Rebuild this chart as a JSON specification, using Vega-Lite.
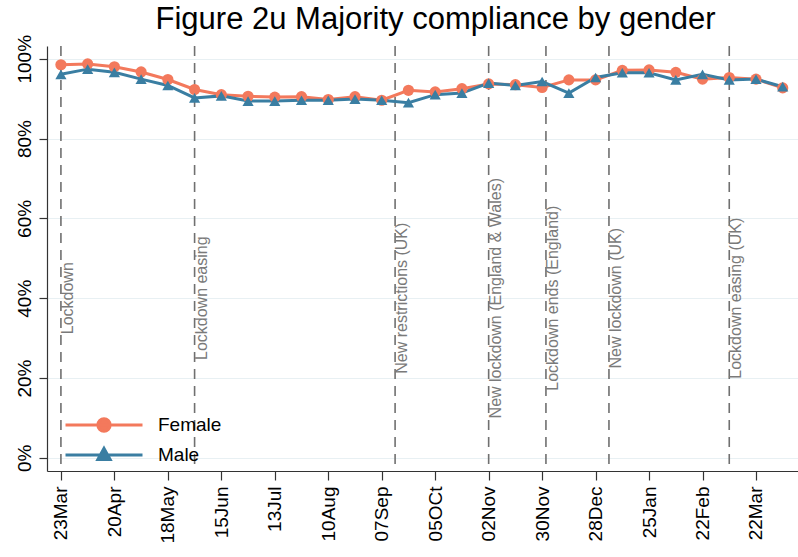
{
  "$schema": "https://vega.github.io/schema/vega-lite/v6.json",
  "width": 798,
  "height": 557,
  "autosize": {"type": "fit", "contains": "padding"},
  "padding": {"left": 14, "right": 0, "top": 8, "bottom": 13},
  "background": "white",
  "title": {
    "text": "Figure 2u Majority compliance by gender",
    "font": "Liberation Sans",
    "fontSize": 31,
    "fontWeight": "normal",
    "color": "#000000",
    "anchor": "middle",
    "offset": -2,
    "dx": 13
  },
  "datasets": {
    "series": [
      {"date": "2020-03-23", "gender": "Female", "value": 98.5},
      {"date": "2020-04-06", "gender": "Female", "value": 98.7},
      {"date": "2020-04-20", "gender": "Female", "value": 98.0},
      {"date": "2020-05-04", "gender": "Female", "value": 96.7},
      {"date": "2020-05-18", "gender": "Female", "value": 94.8},
      {"date": "2020-06-01", "gender": "Female", "value": 92.3},
      {"date": "2020-06-15", "gender": "Female", "value": 91.0},
      {"date": "2020-06-29", "gender": "Female", "value": 90.6},
      {"date": "2020-07-13", "gender": "Female", "value": 90.4},
      {"date": "2020-07-27", "gender": "Female", "value": 90.5},
      {"date": "2020-08-10", "gender": "Female", "value": 89.8},
      {"date": "2020-08-24", "gender": "Female", "value": 90.5},
      {"date": "2020-09-07", "gender": "Female", "value": 89.6},
      {"date": "2020-09-21", "gender": "Female", "value": 92.1},
      {"date": "2020-10-05", "gender": "Female", "value": 91.7},
      {"date": "2020-10-19", "gender": "Female", "value": 92.5},
      {"date": "2020-11-02", "gender": "Female", "value": 93.7},
      {"date": "2020-11-16", "gender": "Female", "value": 93.5},
      {"date": "2020-11-30", "gender": "Female", "value": 92.8},
      {"date": "2020-12-14", "gender": "Female", "value": 94.7},
      {"date": "2020-12-28", "gender": "Female", "value": 94.7},
      {"date": "2021-01-11", "gender": "Female", "value": 97.1},
      {"date": "2021-01-25", "gender": "Female", "value": 97.2},
      {"date": "2021-02-08", "gender": "Female", "value": 96.6},
      {"date": "2021-02-22", "gender": "Female", "value": 94.9},
      {"date": "2021-03-08", "gender": "Female", "value": 95.3},
      {"date": "2021-03-22", "gender": "Female", "value": 94.9},
      {"date": "2021-04-05", "gender": "Female", "value": 92.7},
      {"date": "2020-03-23", "gender": "Male", "value": 96.1},
      {"date": "2020-04-06", "gender": "Male", "value": 97.4},
      {"date": "2020-04-20", "gender": "Male", "value": 96.6},
      {"date": "2020-05-04", "gender": "Male", "value": 94.9},
      {"date": "2020-05-18", "gender": "Male", "value": 93.3},
      {"date": "2020-06-01", "gender": "Male", "value": 90.2},
      {"date": "2020-06-15", "gender": "Male", "value": 90.7},
      {"date": "2020-06-29", "gender": "Male", "value": 89.4},
      {"date": "2020-07-13", "gender": "Male", "value": 89.4},
      {"date": "2020-07-27", "gender": "Male", "value": 89.6},
      {"date": "2020-08-10", "gender": "Male", "value": 89.6},
      {"date": "2020-08-24", "gender": "Male", "value": 89.9},
      {"date": "2020-09-07", "gender": "Male", "value": 89.6},
      {"date": "2020-09-21", "gender": "Male", "value": 89.0},
      {"date": "2020-10-05", "gender": "Male", "value": 91.0},
      {"date": "2020-10-19", "gender": "Male", "value": 91.4},
      {"date": "2020-11-02", "gender": "Male", "value": 93.9},
      {"date": "2020-11-16", "gender": "Male", "value": 93.3},
      {"date": "2020-11-30", "gender": "Male", "value": 94.3},
      {"date": "2020-12-14", "gender": "Male", "value": 91.4},
      {"date": "2020-12-28", "gender": "Male", "value": 95.3},
      {"date": "2021-01-11", "gender": "Male", "value": 96.5},
      {"date": "2021-01-25", "gender": "Male", "value": 96.5},
      {"date": "2021-02-08", "gender": "Male", "value": 94.7},
      {"date": "2021-02-22", "gender": "Male", "value": 96.1},
      {"date": "2021-03-08", "gender": "Male", "value": 94.7},
      {"date": "2021-03-22", "gender": "Male", "value": 94.9},
      {"date": "2021-04-05", "gender": "Male", "value": 93.0}
    ],
    "events": [
      {"date": "2020-03-23", "label": "Lockdown"},
      {"date": "2020-06-01", "label": "Lockdown easing"},
      {"date": "2020-09-14", "label": "New restrictions (UK)"},
      {"date": "2020-11-02", "label": "New lockdown (England & Wales)"},
      {"date": "2020-12-02", "label": "Lockdown ends (England)"},
      {"date": "2021-01-04", "label": "New lockdown (UK)"},
      {"date": "2021-03-08", "label": "Lockdown easing (UK)"}
    ]
  },
  "encoding": {
    "x": {
      "field": "date",
      "type": "temporal",
      "title": null,
      "scale": {
        "type": "utc",
        "domain": [
          {"year": 2020, "month": 3, "date": 15, "hours": 17, "utc": true},
          {"year": 2021, "month": 4, "date": 13, "utc": true}
        ],
        "nice": false
      },
      "axis": {
        "values": [
          {"year": 2020, "month": 3, "date": 23, "utc": true},
          {"year": 2020, "month": 4, "date": 20, "utc": true},
          {"year": 2020, "month": 5, "date": 18, "utc": true},
          {"year": 2020, "month": 6, "date": 15, "utc": true},
          {"year": 2020, "month": 7, "date": 13, "utc": true},
          {"year": 2020, "month": 8, "date": 10, "utc": true},
          {"year": 2020, "month": 9, "date": 7, "utc": true},
          {"year": 2020, "month": 10, "date": 5, "utc": true},
          {"year": 2020, "month": 11, "date": 2, "utc": true},
          {"year": 2020, "month": 11, "date": 30, "utc": true},
          {"year": 2020, "month": 12, "date": 28, "utc": true},
          {"year": 2021, "month": 1, "date": 25, "utc": true},
          {"year": 2021, "month": 2, "date": 22, "utc": true},
          {"year": 2021, "month": 3, "date": 22, "utc": true}
        ],
        "labelExpr": "utcFormat(datum.value, '%d%b') == '05Oct' ? '05OCt' : utcFormat(datum.value, '%d%b')",
        "labelAngle": 270,
        "labelAlign": "right",
        "labelBaseline": "middle",
        "labelFont": "Liberation Sans",
        "labelFontSize": 19,
        "labelColor": "#000000",
        "labelPadding": 6,
        "labelOverlap": false,
        "labelFlush": false,
        "tickSize": 9,
        "tickColor": "#333333",
        "tickWidth": 1.2,
        "domainColor": "#333333",
        "domainWidth": 1.2,
        "grid": false
      }
    }
  },
  "layer": [
    {
      "data": {"name": "events"},
      "mark": {"type": "rule", "color": "#707070", "strokeWidth": 1.6, "strokeDash": [10, 7]},
      "encoding": {}
    },
    {
      "data": {"name": "events"},
      "mark": {
        "type": "text",
        "angle": 270,
        "align": "center",
        "baseline": "top",
        "font": "Liberation Sans",
        "fontSize": 16,
        "color": "#7a7a7a",
        "dy": -1
      },
      "encoding": {
        "y": {"datum": 40, "type": "quantitative"},
        "text": {"field": "label"}
      }
    },
    {
      "data": {"name": "series"},
      "mark": {"type": "line", "strokeWidth": 3},
      "encoding": {
        "y": {
          "field": "value",
          "type": "quantitative",
          "title": null,
          "scale": {"domain": [-3.3, 103.2], "nice": false, "zero": false},
          "axis": {
            "values": [0, 20, 40, 60, 80, 100],
            "labelExpr": "datum.value + '%'",
            "labelAngle": 270,
            "labelAlign": "center",
            "labelBaseline": "bottom",
            "labelFont": "Liberation Sans",
            "labelFontSize": 19,
            "labelColor": "#000000",
            "labelPadding": 5,
            "tickSize": 8,
            "tickColor": "#333333",
            "tickWidth": 1.2,
            "domainColor": "#333333",
            "domainWidth": 1.2,
            "grid": true,
            "gridColor": "#e8f0f3",
            "gridWidth": 1.2
          }
        },
        "color": {
          "field": "gender",
          "type": "nominal",
          "scale": {"domain": ["Female", "Male"], "range": ["#f3795c", "#3a7ea2"]}
        }
      }
    },
    {
      "data": {"name": "series"},
      "transform": [{"filter": "datum.gender === 'Female'"}],
      "mark": {"type": "point", "filled": true, "opacity": 1, "size": 125, "shape": "circle"},
      "encoding": {
        "y": {"field": "value", "type": "quantitative"},
        "color": {"field": "gender", "type": "nominal"}
      }
    },
    {
      "data": {"name": "series"},
      "transform": [{"filter": "datum.gender === 'Male'"}],
      "mark": {"type": "point", "filled": true, "opacity": 1, "size": 125, "shape": "triangle-up"},
      "encoding": {
        "y": {"field": "value", "type": "quantitative"},
        "color": {"field": "gender", "type": "nominal"}
      }
    },
    {
      "data": {"name": "series"},
      "transform": [{"filter": "false"}],
      "mark": {"type": "point", "filled": true, "opacity": 1, "strokeWidth": 3},
      "encoding": {
        "y": {"field": "value", "type": "quantitative"},
        "color": {
          "field": "gender",
          "type": "nominal",
          "legend": {
            "title": null,
            "orient": "none",
            "legendX": 17,
            "legendY": 364,
            "padding": 0,
            "rowPadding": 0,
            "clipHeight": 30,
            "symbolSize": 5929,
            "symbolStrokeWidth": 3,
            "labelFont": "Liberation Sans",
            "labelFontSize": 19,
            "labelColor": "#000000",
            "labelOffset": 14,
            "encode": {
              "symbols": {
                "size": {"value": 5929},
                "fill": {
                  "condition": {"test": "datum.value === 'Female'", "value": "#f3795c"},
                  "value": "#3a7ea2"
                },
                "stroke": {
                  "condition": {"test": "datum.value === 'Female'", "value": "#f3795c"},
                  "value": "#3a7ea2"
                },
                "strokeWidth": {"value": 3},
                "opacity": {"value": 1}
              }
            }
          }
        },
        "shape": {
          "field": "gender",
          "type": "nominal",
          "scale": {
            "domain": ["Female", "Male"],
            "range": [
              "M-1,0H1M0.16,0A0.16,0.16,0,1,1,-0.16,0A0.16,0.16,0,1,1,0.16,0Z",
              "M-1,0H1M0,-0.17L0.16,0.12L-0.16,0.12Z"
            ]
          },
          "legend": {
            "title": null,
            "orient": "none",
            "legendX": 17,
            "legendY": 364,
            "padding": 0,
            "rowPadding": 0,
            "clipHeight": 30,
            "symbolSize": 5929,
            "symbolStrokeWidth": 3,
            "labelFont": "Liberation Sans",
            "labelFontSize": 19,
            "labelColor": "#000000",
            "labelOffset": 14
          }
        }
      }
    }
  ],
  "config": {
    "view": {"stroke": null},
    "font": "Liberation Sans"
  }
}
